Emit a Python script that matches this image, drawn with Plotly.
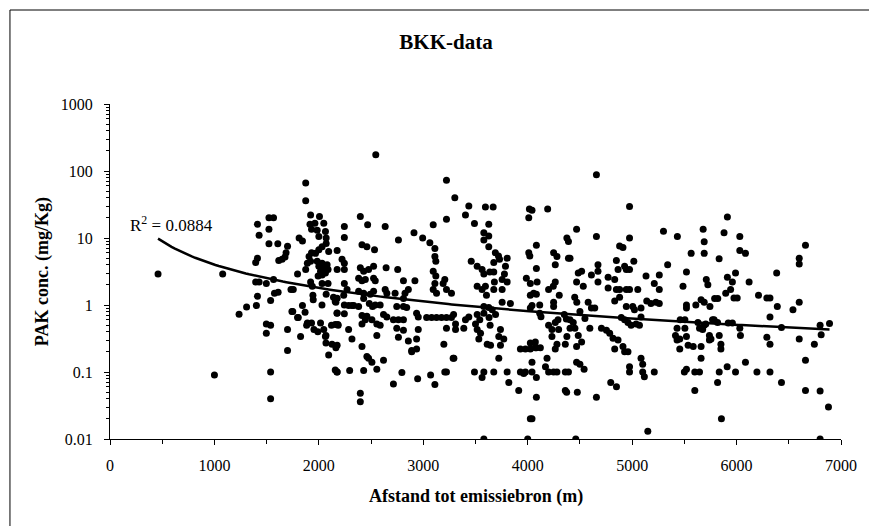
import numpy as np
import plotly.graph_objects as go

# Afstand tot emissiebron (m)
dist = [
 460,1000,1079,1236,1308,1402,1412,1428,1395,1412,1395,1428,1412,1497,1538,1497,1538,1538,1522,1566,1522,1522,1607,1497,1538,1566,1575,1610,1616,1648,1686,1700,1676,1700,1700,1733,1755,1742,1796,1796,1825,1811,1843,1843,1874,1874,1921,1915,1930,1874,1890,1906,1930,1868,1890,1930,1953,1921,1937,1921,1946,1962,2006,1984,2000,2047,2063,2070,1968,2000,2031,2070,1984,2000,2016,2031,2047,2063,2031,1993,2079,2088,1943,2016,2047,2063,2031,2070,2094,2094,2157,2182,2157,2163,2140,2157,2126,2030,2088,
 1883,1990,2068,2068,2174,2185,2121,2174,2163,1750,1803,
 2175,2175,2175,2175,2175,2175,2244,2244,2222,2244,2244,2244,2270,2238,2244,2285,2317,2244,2285,2317,2295,2397,2467,2397,2397,2413,2460,2533,2545,2635,2397,2429,2476,2524,2381,2413,2445,2524,2540,2381,2429,2492,2524,2429,2483,2514,2540,2334,2381,2413,2460,2508,2555,2587,2413,2445,2413,2460,2476,2508,2555,2429,2619,2644,2635,2651,2619,2651,2587,2555,2714,2762,2755,2810,2730,2810,2746,2810,2841,2714,2762,2810,2746,2762,2810,2857,2889,2795,2825,2857,2911,2920,2936,2952,2952,2936,2889,2936,2946,2994,3063,3095,3111,3111,3120,3095,3120,3111,3095,3127,3032,3080,3127,3175,3222,3270,3222,3302,3222,3206,3190,3222,3270,3222,3197,3222,3206,3070,3111,3286,
 3436,3404,3490,3595,3669,3627,3580,3627,3580,3627,3690,3720,3730,3675,3803,3787,3777,3803,3459,3516,3563,3580,3637,3675,3755,3516,3563,3595,3605,3675,3755,3681,3834,3755,3580,3627,3660,3290,3404,3436,3516,3541,3580,3309,3309,3388,3500,3516,3548,3532,3293,3640,3630,3692,3612,3644,3739,3723,3739,3771,3723,3490,3580,3675,3803,3563,3819,3914,3930,3978,4025,4073,4121,3930,3962,3978,4041,4083,4041,4025,4073,4083,4025,4041,3580,4000,4016,4041,4010,4191,4010,4020,4083,4083,4090,3987,4025,4057,4025,4083,4041,4025,4115,4115,4127,4248,4280,4264,4264,4245,4200,4248,4248,4302,4200,4232,4264,4290,4296,4232,4280,4360,4375,4264,4083,4185,4170,4200,4248,4280,4360,4360,4375,4390,4350,4370,
 4390,4468,4405,4484,4516,4468,4532,4450,4470,4500,4579,4610,4642,4405,4436,4452,4405,4484,4516,4468,4548,4595,4390,4468,4500,4540,4373,4475,4658,4460,4658,4658,4673,4673,4610,4673,4770,4833,4849,4865,4770,4849,4880,4912,4944,4975,4928,4975,4975,5016,4880,4944,4975,5054,4833,4880,4944,5006,5022,5085,4896,4928,4960,4990,5038,5070,4706,4754,4785,4817,4833,4865,4912,4928,4960,4795,4850,4975,4975,5085,5101,5101,5117,5212,5150,5133,5212,5260,5260,5180,5260,5228,5300,5340,5433,5430,5415,5430,5085,5140,
 5487,5520,5520,5520,5460,5505,5505,5520,5536,5456,5456,5500,5520,5600,5600,5585,5660,5660,5645,5565,5610,5660,5690,5745,5630,5645,5675,5690,5705,5740,5755,5740,5680,5690,5690,5710,5725,5833,5770,5818,5785,5834,5850,5850,5834,5818,5855,5790,5820,5912,5880,5912,5960,5896,5943,5975,6006,5920,5960,5910,5990,5990,6031,6031,6085,6031,6037,6085,6120,6195,6210,6290,6320,6320,6290,6320,6320,6384,6390,6430,6430,6540,6600,6600,6600,6660,6600,6660,6660,6745,6800,6810,6800,6800,6880,6890,
]

# PAK conc. (mg/Kg)
pak = [
 2.9,0.09,2.9,0.73,0.93,0.98,16,11,4.3,5,2.2,2.2,1.35,0.52,0.5,0.38,0.1,0.04,20,20,13.5,8.2,8.2,2.1,1.17,2.4,1.5,1.55,4.6,4.8,6,7.5,5.2,0.21,0.43,1.7,1.7,0.8,2.9,0.65,0.34,10,9,0.98,66,36,22,16,13.5,3.4,4.2,5.3,6,0.78,0.54,0.54,0.43,2.2,1.9,4.5,1.2,16.6,21,13,10.5,16.6,12.5,10,5.9,6.7,7.4,8.3,4.5,3.8,3.2,4.2,3.6,3.0,2.8,2.7,4.0,3.4,1.4,0.54,0.43,0.34,2.1,1.45,0.18,6.3,0.51,0.51,0.107,0.23,1.3,1.13,0.26,1.0,2.1,
 0.5,0.4,0.35,0.27,0.1,0.5,0.5,0.75,1.1,0.8,0.65,
 6.5,3.4,1.26,0.76,0.1,0.25,14.8,10.2,4.8,4.2,3.4,2.1,1.7,1.4,1.0,0.98,0.98,0.74,0.43,0.31,0.105,21,15.8,0.048,0.036,7.9,7.4,6.7,175,14.8,3.6,3.2,3.4,3.8,2.5,2.3,2.4,2.5,2.3,1.6,1.5,1.45,1.6,1.25,1.05,0.95,1.0,0.98,0.95,0.7,0.68,0.6,0.52,0.5,0.52,0.6,0.24,0.17,0.16,0.14,0.11,0.105,0.15,3.6,1.7,1.5,0.72,0.66,1.0,0.35,0.066,9.3,3.4,2.3,1.5,1.25,0.95,0.95,0.92,0.6,0.6,0.6,0.45,0.33,0.42,0.29,0.2,0.098,1.5,1.7,12,2.3,0.75,0.66,0.43,0.31,0.21,0.22,0.079,10,8.5,15.8,7,5.3,4.5,3.2,2.7,2.1,1.7,1.5,0.65,0.65,0.65,0.65,0.65,0.65,73,40,19,2.4,2.1,1.7,1.5,0.45,0.26,0.1,0.1,0.09,0.065,0.16,
 30,22,16.5,29,29,16,12,10.7,9.3,7.4,6,5.4,4.8,4.3,5,3.8,2.9,2.2,4.5,3.8,3.4,2.9,3.1,3.1,2.4,1.9,1.7,1.9,1.4,1.7,1.7,2.2,1.05,1.1,0.95,0.92,0.85,0.72,0.6,0.66,0.72,0.6,0.75,0.52,0.43,0.45,0.52,0.43,0.38,0.31,0.16,0.5,0.65,0.72,0.26,0.25,0.43,0.34,0.25,0.31,0.16,0.1,0.1,0.1,0.1,0.083,0.07,0.053,0.22,0.22,0.22,0.23,0.23,0.1,0.095,0.1,0.1,0.083,0.14,0.27,0.28,0.042,0.02,0.02,0.01,0.01,27,26,20,27,6,5.4,7.8,3.5,2.2,2.5,2.1,1.5,1.4,1.45,0.98,0.9,1.0,0.75,0.67,6,5.3,4,2.2,1.9,1.7,1.1,0.95,1.4,0.5,0.43,0.55,0.6,0.43,0.34,0.26,0.26,0.34,0.22,0.23,0.16,0.12,0.1,0.1,0.1,0.1,0.053,10,5.0,0.72,0.62,
 8.9,13.5,5,3.0,3.2,2.2,1.9,1.3,1.1,0.8,1.1,0.9,0.9,0.6,0.55,0.45,0.45,0.35,0.28,0.24,0.63,0.45,0.1,0.14,0.13,0.11,0.05,0.05,0.042,0.01,88,10.5,4,3.2,2.8,2.2,2.6,2.4,4.6,3.4,1.8,1.7,7.6,7.2,3.4,3.4,3.8,10,29.5,4.5,1.7,1.7,1.7,1.7,1.15,1.3,0.95,0.95,0.85,0.9,0.65,0.6,0.55,0.5,0.52,0.5,0.45,0.42,0.38,0.32,0.22,0.3,0.24,0.2,0.2,0.07,0.06,0.12,0.1,0.16,0.13,0.1,0.085,0.1,0.013,2.7,2.1,2.8,1.7,1.05,1.05,1.1,12.6,4,10.5,0.45,0.35,0.3,0.66,1.15,
 1.9,3.1,1.0,0.9,0.6,0.6,0.45,0.34,0.25,0.31,0.22,0.1,0.11,0.053,0.1,0.24,0.16,0.24,0.1,5.9,1.0,1.2,1.1,0.95,0.55,0.45,0.43,0.5,0.52,0.35,0.31,0.3,13.5,8.8,5.9,2.4,2.0,4.9,0.6,0.55,0.6,0.35,0.26,0.22,0.1,0.07,0.02,1.25,1.25,20.6,12,2.6,2.2,1.5,1.7,1.27,1.27,0.54,0.54,0.12,0.1,3.0,10.5,6.5,5.9,0.45,0.35,0.14,2.2,0.1,1.4,1.27,1.27,0.66,0.33,0.26,0.1,3.0,0.95,0.46,0.07,0.85,1.1,4.1,5.0,7.8,0.31,0.15,0.053,0.26,0.5,0.36,0.052,0.01,0.03,0.53,
]

# Power trendline as drawn in the chart (values read at its two ends)
trend_end_x = [460, 6890]
trend_end_y = [9.8, 0.432]
r2_text = "R<sup>2</sup> = 0.0884"
y_ticks = [0.01, 0.1, 1, 10, 100, 1000]
y_ticktext = ["0.01", "0.1", "1", "10", "100", "1000"]

x = np.array(dist, dtype=float)
y = np.array(pak, dtype=float)
n = min(len(x), len(y))
x, y = x[:n], y[:n]

# y = a * x^b through the read trendline ends
b = np.log(trend_end_y[1] / trend_end_y[0]) / np.log(trend_end_x[1] / trend_end_x[0])
a = trend_end_y[0] / trend_end_x[0] ** b
tx = np.linspace(trend_end_x[0], trend_end_x[1], 200)
ty = a * tx ** b

W, H = 869, 526
L, R, T, B = 110, 21, 104, 87
pw, ph = W - L - R, H - T - B
FONT = "Liberation Serif"

fig = go.Figure()
fig.add_trace(go.Scatter(x=x, y=y, mode="markers",
                         marker=dict(color="black", size=7, line=dict(width=0)),
                         showlegend=False, hoverinfo="skip"))
fig.add_trace(go.Scatter(x=tx, y=ty, mode="lines",
                         line=dict(color="black", width=2.5),
                         showlegend=False, hoverinfo="skip"))

fig.update_layout(
    width=W, height=H,
    margin=dict(l=L, r=R, t=T, b=B, pad=0),
    paper_bgcolor="white", plot_bgcolor="white",
    font=dict(family=FONT, color="black", size=16),
    title=dict(text="<b>BKK-data</b>", font=dict(family=FONT, size=21, color="black"),
               x=446 / W, xref="container", xanchor="center",
               y=1 - 42 / H, yref="container", yanchor="middle"),
    xaxis=dict(range=[0, 7000], dtick=1000, tick0=0, showgrid=False, zeroline=False,
               showline=True, linecolor="black", linewidth=1,
               ticks="outside", ticklen=5, tickcolor="black", tickwidth=1,
               ticklabelstandoff=7,
               minor=dict(dtick=500, ticks="outside", ticklen=4, tickcolor="black", showgrid=False),
               tickfont=dict(family=FONT, size=16, color="black")),
    yaxis=dict(type="log", range=[-2, 3], tickvals=y_ticks, ticktext=y_ticktext,
               showgrid=False, zeroline=False,
               showline=True, linecolor="black", linewidth=1,
               ticks="outside", ticklen=5, tickcolor="black", tickwidth=1,
               ticklabelstandoff=8,
               minor=dict(dtick="D1", ticks="outside", ticklen=3, tickcolor="black", showgrid=False),
               tickfont=dict(family=FONT, size=16, color="black")),
    annotations=[
        dict(text=r2_text, x=590, y=np.log10(16.2), xref="x", yref="y",
             showarrow=False, font=dict(family=FONT, size=17, color="black"),
             xanchor="center", yanchor="middle"),
        dict(text="<b>Afstand tot emissiebron (m)</b>", x=(480 - L) / pw, y=-(496 - (H - B)) / ph,
             xref="paper", yref="paper", showarrow=False,
             font=dict(family=FONT, size=18, color="black"), xanchor="center", yanchor="middle"),
        dict(text="<b>PAK conc. (mg/Kg)</b>", x=(42 - L) / pw, y=0.5, textangle=-90,
             xref="paper", yref="paper", showarrow=False,
             font=dict(family=FONT, size=18, color="black"), xanchor="center", yanchor="middle"),
    ],
    shapes=[dict(type="rect", xref="paper", yref="paper",
                 x0=(9 - L) / pw, x1=(880 - L) / pw,
                 y0=(H - B - 540) / ph, y1=(H - B - 10) / ph,
                 line=dict(color="black", width=1), fillcolor="rgba(0,0,0,0)", layer="below")],
)

fig.write_html("out.html")
